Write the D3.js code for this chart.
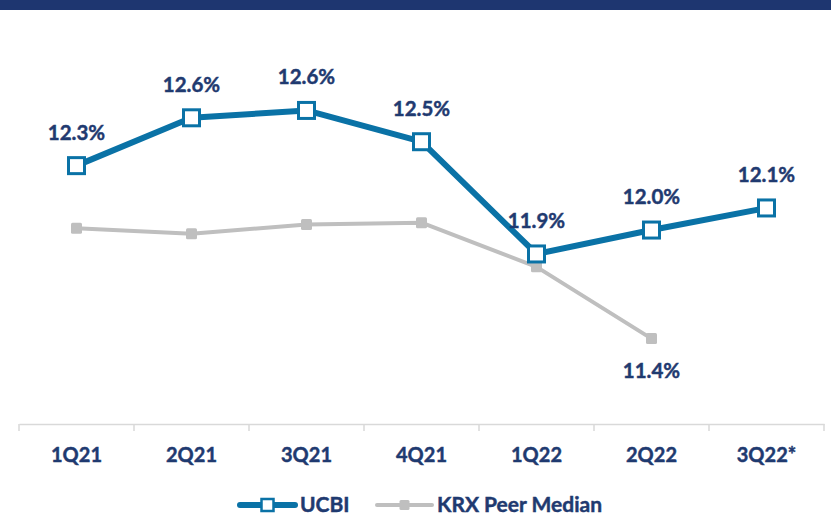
<!DOCTYPE html>
<html>
<head>
<meta charset="utf-8">
<script src="https://cdn.jsdelivr.net/npm/d3@7"></script>
<style>
  html, body { margin: 0; padding: 0; background: #fff; }
  svg { display: block; font-family: Lato, "Open Sans", sans-serif; }
  .lbl { fill: #1f3a70; font-weight: 700; stroke: #1f3a70; stroke-width: 0.45; }
</style>
</head>
<body>
<svg id="chart" width="831" height="517"></svg>
<script>
// quarterly values (labels show 1 decimal)
const quarters = ['1Q21', '2Q21', '3Q21', '4Q21', '1Q22', '2Q22', '3Q22*'];
const ucbi = [12.34, 12.60, 12.64, 12.47, 11.86, 11.99, 12.11];
const peerMedian = [12.00, 11.97, 12.02, 12.03, 11.79, 11.40];
const peerLabelIdx = [5]; // only the last peer point carries a label

const blue = '#0a72a6';
const grey = '#bfbfbf';

const svg = d3.select('#chart');

// header band
svg.append('rect')
    .attr('x', 0).attr('y', 0)
    .attr('width', 831).attr('height', 10)
    .attr('fill', '#1e3670');

const x = d3.scaleBand()
    .domain(quarters)
    .range([19, 824]);

const y = d3.scaleLinear()
    .domain([11, 13])
    .range([412.2, 44.2]);

const cx = d => x(d) + x.bandwidth() / 2;

// category axis
const axis = svg.append('g')
    .attr('transform', 'translate(0,424)')
    .call(d3.axisBottom(x).tickSize(0).tickFormat(''));
axis.select('.domain').attr('stroke', '#d9d9d9').attr('stroke-width', 1.5);

const tickPos = quarters.map(q => x(q)).concat([x.range()[1]]);
svg.append('g').selectAll('line')
    .data(tickPos)
    .join('line')
    .attr('x1', d => d).attr('x2', d => d)
    .attr('y1', 424).attr('y2', 431)
    .attr('stroke', '#d9d9d9')
    .attr('stroke-width', 1.5);

svg.append('g').selectAll('text')
    .data(quarters)
    .join('text')
    .attr('class', 'lbl')
    .attr('x', d => cx(d))
    .attr('y', 462)
    .attr('text-anchor', 'middle')
    .attr('font-size', 20)
    .text(d => d);

const line = d3.line()
    .x((d, i) => cx(quarters[i]))
    .y(d => y(d));

// peer median series
svg.append('path')
    .datum(peerMedian)
    .attr('d', line)
    .attr('fill', 'none')
    .attr('stroke', grey)
    .attr('stroke-width', 4)
    .attr('stroke-linejoin', 'round');

svg.append('g').selectAll('rect')
    .data(peerMedian)
    .join('rect')
    .attr('x', (d, i) => cx(quarters[i]) - 5.5)
    .attr('y', d => y(d) - 5.5)
    .attr('width', 11).attr('height', 11)
    .attr('rx', 1.5)
    .attr('fill', grey);

svg.append('g').selectAll('text')
    .data(peerLabelIdx)
    .join('text')
    .attr('class', 'lbl')
    .attr('x', i => cx(quarters[i]))
    .attr('y', i => y(peerMedian[i]) + 39)
    .attr('text-anchor', 'middle')
    .attr('font-size', 20.5)
    .text(i => d3.format('.1f')(peerMedian[i]) + '%');

// UCBI series
svg.append('path')
    .datum(ucbi)
    .attr('d', line)
    .attr('fill', 'none')
    .attr('stroke', blue)
    .attr('stroke-width', 6)
    .attr('stroke-linejoin', 'round');

svg.append('g').selectAll('rect')
    .data(ucbi)
    .join('rect')
    .attr('x', (d, i) => cx(quarters[i]) - 8)
    .attr('y', d => y(d) - 8)
    .attr('width', 16).attr('height', 16)
    .attr('fill', '#fff')
    .attr('stroke', blue)
    .attr('stroke-width', 3);

svg.append('g').selectAll('text')
    .data(ucbi)
    .join('text')
    .attr('class', 'lbl')
    .attr('x', (d, i) => cx(quarters[i]))
    .attr('y', d => y(d) - 26)
    .attr('text-anchor', 'middle')
    .attr('font-size', 20.5)
    .text(d => d3.format('.1f')(d) + '%');

// legend
const legend = svg.append('g').attr('transform', 'translate(0,505)');
const items = [
    { name: 'UCBI', x0: 240, color: blue, width: 6, open: true },
    { name: 'KRX Peer Median', x0: 377, color: grey, width: 4, open: false }
];
items.forEach(it => {
    legend.append('line')
        .attr('x1', it.x0).attr('x2', it.x0 + 55)
        .attr('y1', 0).attr('y2', 0)
        .attr('stroke', it.color)
        .attr('stroke-width', it.width)
        .attr('stroke-linecap', 'round');
    const s = it.open ? 12 : 10;
    legend.append('rect')
        .attr('x', it.x0 + 27.5 - s / 2).attr('y', -s / 2)
        .attr('width', s).attr('height', s)
        .attr('rx', it.open ? 0 : 1.5)
        .attr('fill', it.open ? '#fff' : it.color)
        .attr('stroke', it.open ? it.color : 'none')
        .attr('stroke-width', 2.5);
    legend.append('text')
        .attr('class', 'lbl')
        .attr('x', it.x0 + 60)
        .attr('y', 7)
        .attr('font-size', 21)
        .text(it.name);
});
</script>
</body>
</html>
